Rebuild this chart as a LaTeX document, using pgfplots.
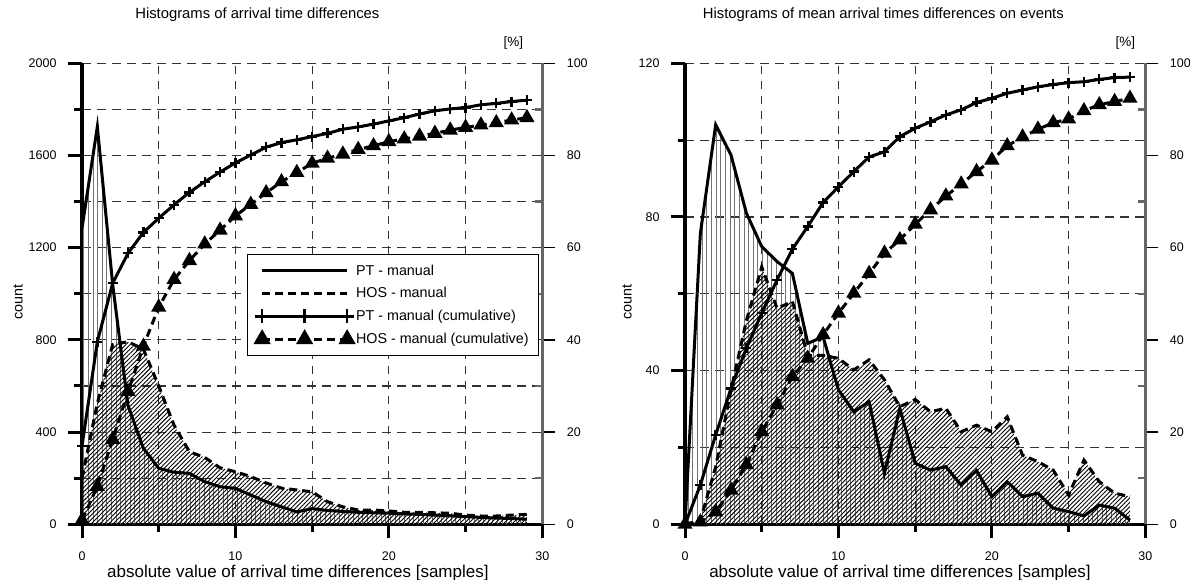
\documentclass[border=0pt]{standalone}
\usepackage{fontspec}
\setmainfont{Liberation Sans}
\usepackage{pgfplots}
\pgfplotsset{compat=1.18}
\usepackage{pgfplotstable}
\usetikzlibrary{patterns.meta}

% x = |time difference| in samples, pt/hos = counts, ptc/hosc = cumulative [%]
\pgfplotstableread{
x  pt    hos   ptc   hosc
0  1285  200   17.0  0.9
1  1725  525   39.6  8.2
2  1040  780   52.3  18.4
3  515   792   58.8  28.8
4  330   760   63.3  38.6
5  243   600   66.4  47.1
6  226   430   69.3  53.1
7  221   315   72.0  57.2
8  185   290   74.3  60.8
9  163   245   76.4  63.8
10 156   228   78.4  66.9
11 127   207   80.1  69.4
12 98    179   81.8  71.9
13 76    157   82.8  74.3
14 54    149   83.4  76.3
15 68    141   84.1  78.3
16 60    98    84.8  79.4
17 56    76    85.7  80.3
18 52    62    86.2  81.3
19 50    62    86.8  82.1
20 48    58    87.5  83.0
21 45    52    88.2  83.6
22 43    52    89.0  84.2
23 40    50    89.7  84.8
24 37    48    90.1  85.5
25 33    40    90.4  86.1
26 30    36    91.0  86.6
27 27    36    91.3  87.1
28 25    40    91.7  87.7
29 22    43    92.0  88.2
}\leftdata

\pgfplotstableread{
x  pt    hos   ptc   hosc
0  0     0     0.0   0.0
1  75.7  1.0   8.5   0.5
2  104   15    19.4  2.7
3  96.1  35    29.5  7.4
4  81    53    38.2  12.9
5  72.3  67    45.8  20.1
6  68.4  56.2  53.0  25.9
7  65.3  58    59.7  32.0
8  47.1  44    64.6  36.0
9  48.8  44    69.8  41.1
10 35    43.2  73.2  45.8
11 29.3  40.2  76.5  50.1
12 31.9  42.8  79.7  54.4
13 13.3  37.6  80.8  58.8
14 30.2  30.6  84.1  61.7
15 15.9  32.5  85.9  65.1
16 14.1  29.3  87.3  68.2
17 15    30.2  88.8  71.2
18 10.2  24.1  89.9  73.8
19 14    25.8  91.5  76.5
20 7.2   24.1  92.4  79.0
21 11.1  28    93.5  82.1
22 7.2   18    94.2  84.0
23 8.1   16.3  94.9  85.7
24 4.2   14.1  95.4  87.1
25 3.3   7.6   95.8  87.9
26 2.2   16.7  96.0  89.7
27 5.0   11.1  96.5  91.0
28 4.2   8.1   96.9  91.7
29 1.1   7.2   97.0  92.4
}\rightdata

\pgfplotsset{
  base/.style={
    scale only axis, width=460.3pt, height=461pt,
    xmin=0, xmax=30,
    /pgf/number format/assume math mode=true,
    /pgf/number format/1000 sep={},
    tick label style={font=\fontsize{12.5}{14}\selectfont},
    label style={font=\fontsize{14.3}{16}\selectfont},
  },
  gridline/.style={black!80, line width=1.1pt, dash pattern=on 8.5pt off 6.5pt},
  countaxis/.style={
    base,
    axis x line=bottom, axis y line=left,
    axis line style={-, line width=3.3pt},
    xtick={0,10,20,30}, minor xtick={5,15,25},
    tick align=outside, major tick length=14pt, minor tick length=7.5pt,
    tick style={black, line width=3pt},
    grid=both,
    major grid style={gridline},
    minor grid style={gridline},
    scaled y ticks=false,
    xticklabel style={yshift=-10pt},
    yticklabel style={xshift=-8pt},
    xlabel={absolute value of arrival time differences [samples]},
    xlabel style={font=\fontsize{17}{19}\selectfont, at={(axis description cs:0.469,0)}, anchor=base, yshift=-53pt},
    ylabel={count},
    title style={font=\fontsize{14.8}{17}\selectfont, anchor=base, yshift=38.3pt},
  },
  pctaxis/.style={
    base,
    clip=false,
    axis x line=none, axis y line=right,
    y axis line style={-, line width=3pt, black!60},
    ymin=0, ymax=100,
    ytick={0,20,...,100}, minor ytick={10,30,...,90},
    tick align=outside, major tick length=13pt, minor tick length=7pt,
    major tick style={black, line width=1.4pt},
    minor tick style={black!60, line width=2.4pt, xshift=-7pt},
    yticklabel style={anchor=west, xshift=8pt},
  },
  ptline/.style={black, line width=3pt},
  hosline/.style={black, line width=3pt, dash pattern=on 8pt off 5pt},
  ptfill/.style={draw=none, pattern={Lines[angle=90,distance=4.65pt,line width=1pt]}, pattern color=black!55},
  hosfill/.style={draw=none, pattern={Lines[angle=45,distance=3.1pt,line width=0.9pt]}, pattern color=black},
  ptcum/.style={black, line width=3pt, mark=+, mark size=5pt, mark options={solid, line width=2.4pt}},
  hoscum/.style={black, line width=3pt, dash pattern=on 8pt off 5pt, mark=triangle*, mark size=5.8pt, mark options={solid}},
}

\begin{document}
\begin{tikzpicture}
\useasboundingbox (0,0) rectangle (1190pt,580pt);

% ---- left panel ----
\begin{axis}[countaxis, at={(82pt,55.7pt)}, anchor=south west,
  ymin=0, ymax=2000,
  ytick={0,400,...,2000}, minor ytick={200,600,...,1800},
  ylabel style={at={(axis description cs:-0.139,0.482)}, anchor=center},
  title={Histograms of arrival time differences},
  title style={at={(axis description cs:0.381,1)}},
]
\addplot[ptfill] table[x=x,y=pt]{\leftdata} \closedcycle;
\addplot[hosfill] table[x=x,y=hos]{\leftdata} \closedcycle;
\addplot[ptline] table[x=x,y=pt]{\leftdata};
\addplot[hosline] table[x=x,y=hos]{\leftdata};
\end{axis}

\begin{axis}[pctaxis, at={(82pt,55.7pt)}, anchor=south west,
  legend image code/.code={\draw[mark repeat=1, #1, mark size=7pt] plot coordinates {(0pt,0pt) (42.5pt,0pt) (85pt,0pt)};},
  legend style={at={(0.993,0.586)}, anchor=north east, draw=black, line width=1pt,
    font=\fontsize{14.3}{16}\selectfont, row sep=7pt, inner xsep=8pt, inner ysep=8pt},
  legend cell align=left,
]
\addlegendimage{ptline}
\addlegendentry{PT - manual}
\addlegendimage{hosline}
\addlegendentry{HOS - manual}
\addplot[ptcum] table[x=x,y=ptc]{\leftdata};
\addlegendentry{PT - manual (cumulative)}
\addplot[hoscum] table[x=x,y=hosc]{\leftdata};
\addlegendentry{HOS - manual (cumulative)}
\node[anchor=base, font=\fontsize{13.5}{15}\selectfont, xshift=-29pt, yshift=16.3pt] at (axis description cs:1,1) {[\%]};
\end{axis}

% ---- right panel ----
\begin{axis}[countaxis, at={(685pt,55.7pt)}, anchor=south west,
  ymin=0, ymax=120,
  ytick={0,40,80,120}, minor ytick={20,60,100},
  xlabel style={at={(axis description cs:0.467,0)}},
  ylabel style={at={(axis description cs:-0.126,0.482)}, anchor=center},
  title={Histograms of mean arrival times differences on events},
  title style={at={(axis description cs:0.431,1)}},
]
\addplot[ptfill] table[x=x,y=pt]{\rightdata} \closedcycle;
\addplot[hosfill] table[x=x,y=hos]{\rightdata} \closedcycle;
\addplot[ptline] table[x=x,y=pt]{\rightdata};
\addplot[hosline] table[x=x,y=hos]{\rightdata};
\end{axis}

\begin{axis}[pctaxis, at={(685pt,55.7pt)}, anchor=south west]
\addplot[ptcum] table[x=x,y=ptc]{\rightdata};
\addplot[hoscum] table[x=x,y=hosc]{\rightdata};
\node[anchor=base, font=\fontsize{13.5}{15}\selectfont, xshift=-20pt, yshift=16.3pt] at (axis description cs:1,1) {[\%]};
\end{axis}
\end{tikzpicture}
\end{document}
